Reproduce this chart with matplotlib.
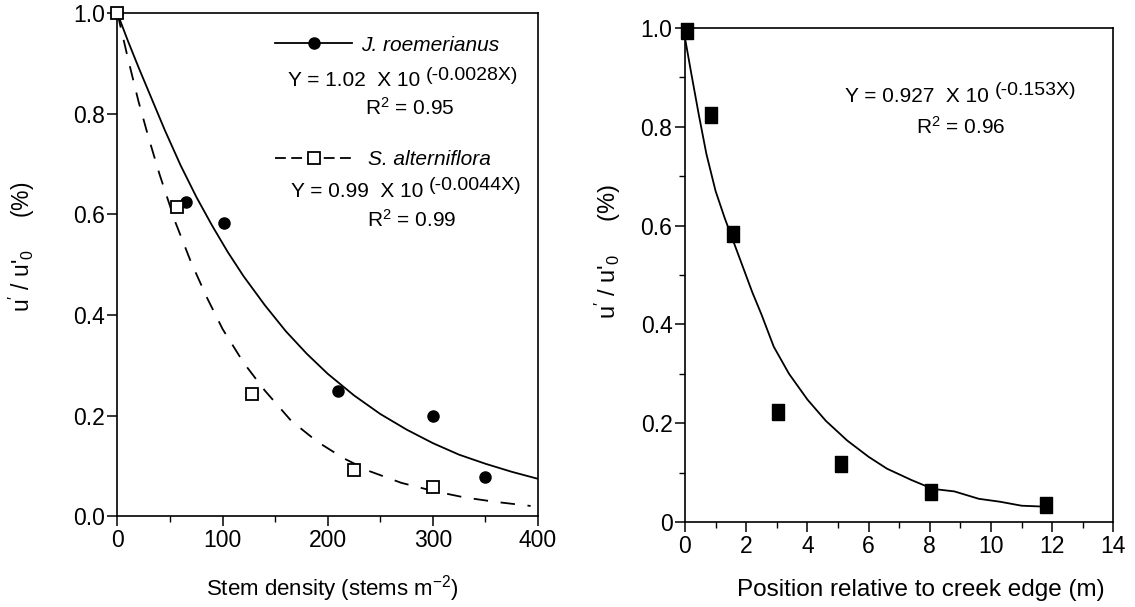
import matplotlib
import matplotlib.pyplot as plt
from matplotlib.ticker import MultipleLocator, FuncFormatter

matplotlib.use("Agg")

plt.rcParams["font.family"] = ["Liberation Sans", "DejaVu Sans"]
plt.rcParams["mathtext.default"] = "regular"

# left panel: stem density vs normalized velocity
jr_density = [0, 65, 101, 210, 300, 350]
jr_ratio = [1.0, 0.625, 0.584, 0.248, 0.199, 0.078]
sa_density = [0, 57, 128, 225, 300]
sa_ratio = [1.0, 0.615, 0.243, 0.092, 0.058]

# fitted curves as drawn in the figure
jr_fit_x = [0, 10, 20, 30, 45, 60, 75, 90, 105, 120, 140, 160, 180, 200, 225, 250,
            275, 300, 325, 350, 375, 400]
jr_fit_y = [1.0, 0.945, 0.893, 0.843, 0.768, 0.698, 0.635, 0.578, 0.525, 0.477, 0.42,
            0.368, 0.323, 0.283, 0.24, 0.203, 0.172, 0.145, 0.122, 0.104, 0.088, 0.074]
sa_fit_x = [0, 10, 20, 30, 40, 55, 70, 85, 100, 120, 140, 165, 190, 215, 240, 270,
            300, 330, 360, 393]
sa_fit_y = [1.0, 0.91, 0.825, 0.75, 0.68, 0.585, 0.505, 0.435, 0.372, 0.305, 0.25,
            0.19, 0.148, 0.115, 0.089, 0.066, 0.05, 0.037, 0.028, 0.02]

# right panel: position relative to creek edge
pos_m = [0.05, 0.84, 1.57, 3.05, 5.1, 8.05, 11.8]
pos_ratio = [0.993, 0.824, 0.582, 0.222, 0.118, 0.06, 0.034]
pos_fit_x = [0, 0.2, 0.45, 0.7, 1.0, 1.3, 1.6, 1.9, 2.2, 2.5, 2.9, 3.4, 4.0, 4.6, 5.3,
             6.0, 6.6, 7.4, 8.1, 8.8, 9.6, 10.3, 11.0, 11.8]
pos_fit_y = [0.98, 0.91, 0.825, 0.745, 0.67, 0.615, 0.565, 0.515, 0.465, 0.42, 0.355,
             0.3, 0.248, 0.205, 0.165, 0.132, 0.108, 0.085, 0.067, 0.062, 0.047, 0.041,
             0.033, 0.031]

# slightly tall filled square, like the printed markers
tall_square = [(-0.8, -1), (0.8, -1), (0.8, 1), (-0.8, 1), (-0.8, -1)]

fig = plt.figure(figsize=(11.35, 6.07), dpi=100)
ax1 = fig.add_axes([0.1035, 0.1499, 0.3705, 0.8279])
ax2 = fig.add_axes([0.6035, 0.1400, 0.3775, 0.8139])

for ax in (ax1, ax2):
    for sp in ax.spines.values():
        sp.set_linewidth(1.2)
    ax.tick_params(which="major", direction="out", length=7, width=1.1,
                   labelsize=16.5, pad=2)
    ax.tick_params(which="minor", direction="out", length=4, width=1.0)
    ax.tick_params(top=False, right=False)

# ---- left panel
ax1.plot(jr_fit_x, jr_fit_y, color="black", lw=1.3)
ax1.plot(sa_fit_x, sa_fit_y, color="black", lw=1.3, dashes=(8, 7))
ax1.plot(jr_density, jr_ratio, "o", color="black", ms=8, clip_on=False, zorder=3)
ax1.plot(sa_density, sa_ratio, "s", mfc="white", mec="black", mew=1.3, ms=8.5,
         clip_on=False, zorder=4)
ax1.set_xlim(0, 400)
ax1.set_ylim(0, 1.0)
ax1.xaxis.set_major_locator(MultipleLocator(100))
ax1.xaxis.set_minor_locator(MultipleLocator(50))
ax1.yaxis.set_major_locator(MultipleLocator(0.2))
ax1.yaxis.set_major_formatter(FuncFormatter(lambda v, p: f"{v:.1f}"))

h1, = ax1.plot([], [], "-o", color="black", lw=1.3, ms=8)
h2, = ax1.plot([], [], "s", ls=(0, (6, 3)), color="black", lw=1.3, mfc="white",
               mec="black", mew=1.3, ms=8)
leg1 = ax1.legend([h1], ["J. roemerianus"], loc="upper left",
                  bbox_to_anchor=(0.33, 0.993), frameon=False, handlelength=3.7,
                  handletextpad=0.45, prop={"size": 15, "style": "italic"})
ax1.add_artist(leg1)
ax1.legend([h2], ["S. alterniflora"], loc="upper left",
           bbox_to_anchor=(0.33, 0.765), frameon=False, handlelength=3.7,
           handletextpad=0.75, prop={"size": 15, "style": "italic"})

eq1 = ax1.text(0.405, 0.866, "Y = 1.02  X 10", transform=ax1.transAxes,
               fontsize=15, ha="left", va="center")
ax1.annotate("(-0.0028X)", xy=(1, 0.5), xycoords=eq1, xytext=(4, 4),
             textcoords="offset points", fontsize=14, ha="left", va="center")
ax1.text(0.696, 0.813, "R$^2$ = 0.95", transform=ax1.transAxes, fontsize=15,
         ha="center", va="center")
eq2 = ax1.text(0.413, 0.646, "Y = 0.99  X 10", transform=ax1.transAxes,
               fontsize=15, ha="left", va="center")
ax1.annotate("(-0.0044X)", xy=(1, 0.5), xycoords=eq2, xytext=(4, 4),
             textcoords="offset points", fontsize=14, ha="left", va="center")
ax1.text(0.70, 0.590, "R$^2$ = 0.99", transform=ax1.transAxes, fontsize=15,
         ha="center", va="center")

ax1.set_xlabel("Stem density (stems m$^{-2}$)", fontsize=16)
ax1.xaxis.set_label_coords(0.51, -0.113)
ax1.text(-0.227, 0.536, "u$'$ / u$'_{0}$     (%)", transform=ax1.transAxes,
         rotation=90, fontsize=16.5, ha="center", va="center")

# ---- right panel
ax2.plot(pos_fit_x, pos_fit_y, color="black", lw=1.3)
ax2.plot(pos_m, pos_ratio, marker=tall_square, ls="none", color="black", ms=11,
         clip_on=False, zorder=3)
ax2.set_xlim(0, 14)
ax2.set_ylim(0, 1.0)
ax2.xaxis.set_major_locator(MultipleLocator(2))
ax2.xaxis.set_minor_locator(MultipleLocator(1))
ax2.yaxis.set_major_locator(MultipleLocator(0.2))
ax2.yaxis.set_minor_locator(MultipleLocator(0.1))
ax2.yaxis.set_major_formatter(
    FuncFormatter(lambda v, p: "0" if abs(v) < 1e-9 else f"{v:.1f}"))

eq3 = ax2.text(0.3735, 0.862, "Y = 0.927  X 10", transform=ax2.transAxes,
               fontsize=15, ha="left", va="center")
ax2.annotate("(-0.153X)", xy=(1, 0.5), xycoords=eq3, xytext=(4, 4),
             textcoords="offset points", fontsize=14, ha="left", va="center")
ax2.text(0.644, 0.80, "R$^2$ = 0.96", transform=ax2.transAxes, fontsize=15,
         ha="center", va="center")

ax2.set_xlabel("Position relative to creek edge (m)", fontsize=17.5)
ax2.xaxis.set_label_coords(0.551, -0.115)
ax2.text(-0.18, 0.547, "u$'$ / u$'_{0}$     (%)", transform=ax2.transAxes,
         rotation=90, fontsize=17, ha="center", va="center")

fig.savefig("out.png", dpi=100)
